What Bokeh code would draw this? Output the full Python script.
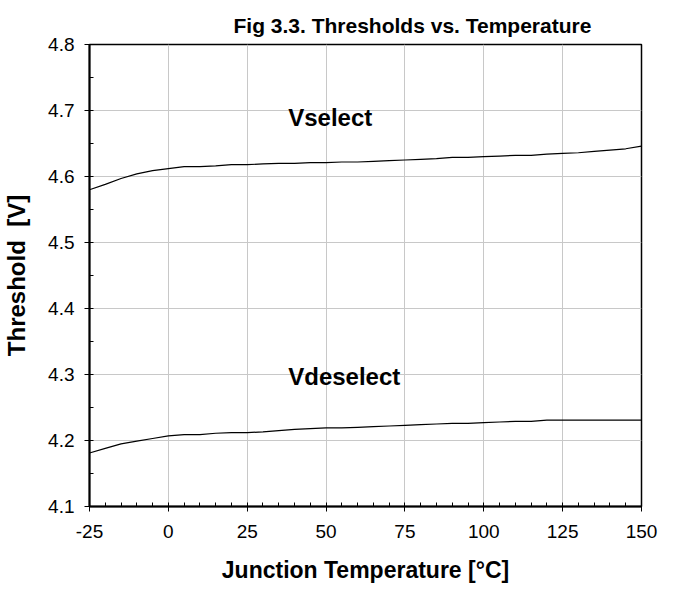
from bokeh.plotting import figure
from bokeh.models import Range1d, FixedTicker, Title, ColumnDataSource, CustomJSTickFormatter
from bokeh.core.properties import value
from bokeh.embed import file_html
from bokeh.resources import INLINE

# Data
temperature = [-25, -20, -15, -10, -5, 0, 5, 10, 15, 20, 25, 30, 35, 40, 45, 50, 55, 60,
               65, 70, 75, 80, 85, 90, 95, 100, 105, 110, 115, 120, 125, 130, 135, 140, 145, 150]
vselect = [4.580, 4.588, 4.597, 4.604, 4.609, 4.612, 4.615, 4.615, 4.616, 4.618, 4.618, 4.619,
           4.620, 4.620, 4.621, 4.621, 4.622, 4.622, 4.623, 4.624, 4.625, 4.626, 4.627, 4.629,
           4.629, 4.630, 4.631, 4.632, 4.632, 4.634, 4.635, 4.636, 4.638, 4.640, 4.642, 4.646]
vdeselect = [4.181, 4.188, 4.195, 4.199, 4.203, 4.207, 4.209, 4.209, 4.211, 4.212, 4.212, 4.213,
             4.215, 4.217, 4.218, 4.219, 4.219, 4.220, 4.221, 4.222, 4.223, 4.224, 4.225, 4.226,
             4.226, 4.227, 4.228, 4.229, 4.229, 4.231, 4.231, 4.231, 4.231, 4.231, 4.231, 4.231]
x_ticks = [-25, 0, 25, 50, 75, 100, 125, 150]
y_ticks = [4.1, 4.2, 4.3, 4.4, 4.5, 4.6, 4.7, 4.8]
series_labels = ["Vselect", "Vdeselect"]
label_x = [38, 38]
label_y = [4.689, 4.297]

FONT = "Liberation Sans"

p = figure(width=665, height=587, output_backend="svg", toolbar_location=None,
           x_range=Range1d(-25, 150), y_range=Range1d(4.1, 4.8),
           min_border_left=83, min_border_right=24, min_border_top=44, min_border_bottom=81)

t = Title(text="Fig 3.3. Thresholds vs. Temperature", align="left", offset=144,
          text_font=FONT, text_font_size="21px", text_font_style="bold",
          text_color="black", standoff=16)
p.title = t

p.background_fill_color = "white"
p.border_fill_color = "white"
p.outline_line_color = "black"
p.outline_line_width = 1.5

# grid
p.xgrid.ticker = FixedTicker(ticks=x_ticks)
p.ygrid.ticker = FixedTicker(ticks=y_ticks)
for g in (p.xgrid, p.ygrid):
    g.grid_line_color = "#c8c8c8"
    g.grid_line_width = 1

# axes
p.xaxis.ticker = FixedTicker(ticks=x_ticks, minor_ticks=list(range(-25, 151, 5)))
p.yaxis.ticker = FixedTicker(ticks=y_ticks, minor_ticks=[round(4.1 + 0.05 * i, 2) for i in range(15)])
p.xaxis.formatter = CustomJSTickFormatter(code="return String(Math.round(tick));")
p.yaxis.formatter = CustomJSTickFormatter(code="return tick.toFixed(1);")

for ax in (p.xaxis, p.yaxis):
    ax.axis_line_color = "black"
    ax.axis_line_width = 2
    ax.major_tick_line_color = "black"
    ax.major_tick_line_width = 1
    ax.major_tick_in = 0
    ax.major_tick_out = 5
    ax.minor_tick_line_color = "black"
    ax.minor_tick_in = 4
    ax.minor_tick_out = 0
    ax.major_label_text_font = FONT
    ax.major_label_text_font_size = "19px"
    ax.major_label_text_color = "black"
    ax.axis_label_text_font = FONT
    ax.axis_label_text_font_size = "24px"
    ax.axis_label_text_font_style = "bold"
    ax.axis_label_text_color = "black"

p.xaxis.axis_label = "Junction Temperature [°C]"
p.xaxis.axis_label_text_font_size = "23px"
p.yaxis.axis_label = "Threshold\u00a0\u00a0[V]"
p.xaxis.major_label_standoff = 13
p.xaxis.axis_label_standoff = 16
p.yaxis.major_label_standoff = 10
p.yaxis.axis_label_standoff = 15

src = ColumnDataSource(data=dict(t=temperature, vs=vselect, vd=vdeselect))
p.line("t", "vs", source=src, line_color="black", line_width=1.2)
p.line("t", "vd", source=src, line_color="black", line_width=1.2)

lab = ColumnDataSource(data=dict(x=label_x, y=label_y, text=series_labels))
p.text("x", "y", text="text", source=lab, text_font=value(FONT), text_font_size="24px",
       text_font_style="bold", text_color="black", text_baseline="alphabetic", text_align="left")

open("out.html", "w").write(file_html(p, INLINE))
